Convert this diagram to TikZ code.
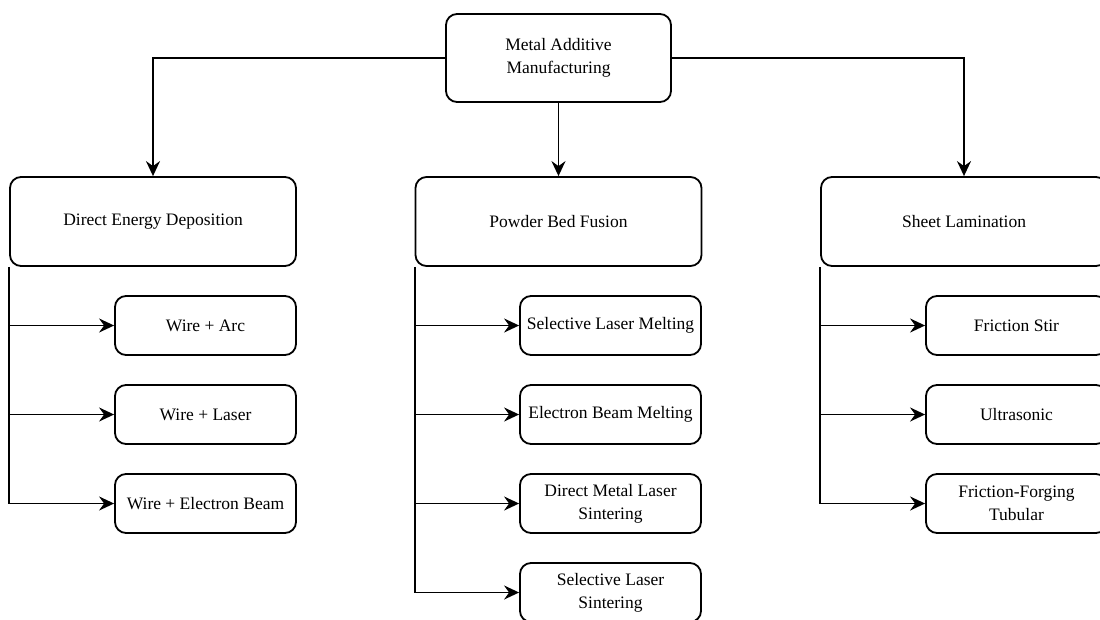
\documentclass[tikz,border=0pt]{standalone}
\usepackage{fontspec}
\setmainfont{Liberation Serif}
\usetikzlibrary{arrows.meta}
\begin{document}
\begin{tikzpicture}[x=1pt,y=-1pt,
  box/.style={draw, line width=1.8pt, rounded corners=11pt, align=center, inner sep=0pt,
    font=\fontsize{17.5}{23}\selectfont},
  mainbox/.style={box, minimum width=286pt, minimum height=89pt},
  subbox/.style={box, minimum width=181pt, minimum height=59pt},
  topbox/.style={box, minimum width=225pt, minimum height=88pt},
  arr/.style={line width=1.8pt, -{Stealth[length=15pt,width=14pt,inset=5pt]}}]
\useasboundingbox (0,0) rectangle (1100,619);
\clip (0,0) rectangle (1100,619);
\fill[white] (0,0) rectangle (1100,619);

\node[topbox] (top) at (558.5,58) {Metal Additive\\Manufacturing};

\node[mainbox] (ded) at (153,221.5) {Direct Energy Deposition};
\node[mainbox] (pbf) at (558.5,221.5) {Powder Bed Fusion};
\node[mainbox] (sl)  at (964,221.5) {Sheet Lamination};

\node[subbox] (d1) at (205.5,325.5) {Wire + Arc};
\node[subbox] (d2) at (205.5,414.5) {Wire + Laser};
\node[subbox] (d3) at (205.5,503.5) {Wire + Electron Beam};

\node[subbox] (p1) at (610.5,325.5) {Selective Laser Melting};
\node[subbox] (p2) at (610.5,414.5) {Electron Beam Melting};
\node[subbox] (p3) at (610.5,503.5) {Direct Metal Laser\\Sintering};
\node[subbox] (p4) at (610.5,592.5) {Selective Laser\\Sintering};

\node[subbox] (s1) at (1016.5,325.5) {Friction Stir};
\node[subbox] (s2) at (1016.5,414.5) {Ultrasonic};
\node[subbox] (s3) at (1016.5,503.5) {Friction-Forging\\Tubular};

\draw[arr] (top.west) -| (ded.north);
\draw[arr] (top.south) -- (pbf.north);
\draw[arr] (top.east) -| (sl.north);

\draw[arr] (ded.south west) |- (d3.west);
\foreach \c in {d1,d2} \draw[arr] (ded.south west |- \c.west) -- (\c.west);
\draw[arr] (pbf.south west) |- (p4.west);
\foreach \c in {p1,p2,p3} \draw[arr] (pbf.south west |- \c.west) -- (\c.west);
\draw[arr] (sl.south west) |- (s3.west);
\foreach \c in {s1,s2} \draw[arr] (sl.south west |- \c.west) -- (\c.west);
\end{tikzpicture}
\end{document}
